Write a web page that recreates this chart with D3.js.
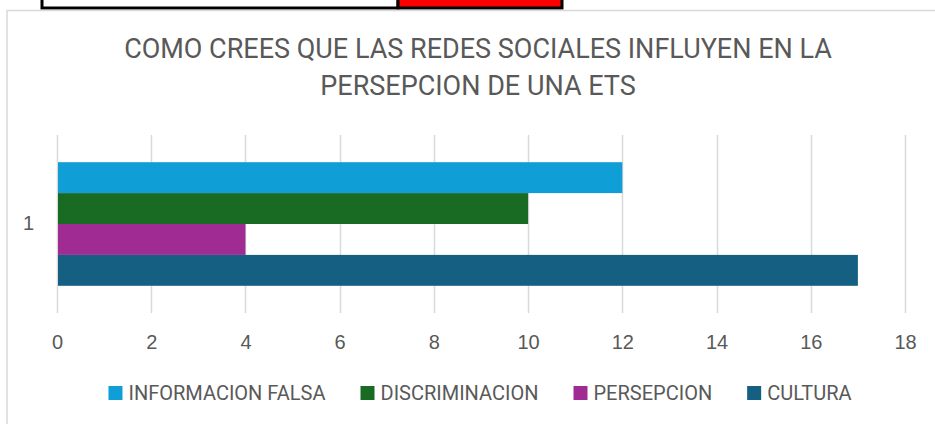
<!DOCTYPE html>
<html>
<head>
<meta charset="utf-8">
<script src="https://cdn.jsdelivr.net/npm/d3@7"></script>
<style>
  body { margin: 0; background: #fff; }
  svg { display: block; font-family: Roboto, "Liberation Sans", sans-serif; }
</style>
</head>
<body>
<div id="chart"></div>
<script>
// data
var categories = ["1"];
var seriesNames = ["INFORMACION FALSA", "DISCRIMINACION", "PERSEPCION", "CULTURA"];
var seriesValues = [12, 10, 4, 17];
var seriesColors = ["#0F9ED5", "#196B24", "#A02B93", "#156082"];
var xTicks = [0, 2, 4, 6, 8, 10, 12, 14, 16, 18];
var titleLines = ["COMO CREES QUE LAS REDES SOCIALES INFLUYEN EN LA", "PERSEPCION DE UNA ETS"];

var svgWidth = 935, svgHeight = 424;
var margin = { top: 135, right: 30, bottom: 111, left: 57 };
var width = svgWidth - margin.left - margin.right;
var height = svgHeight - margin.top - margin.bottom;
var textColor = "#595959";

var svg = d3.select("#chart").append("svg")
    .attr("width", svgWidth)
    .attr("height", svgHeight);

// spreadsheet cells peeking above the chart
svg.append("rect").attr("x", 42).attr("y", -10).attr("width", 356).attr("height", 18)
    .attr("fill", "#fff").attr("stroke", "#000").attr("stroke-width", 3);
svg.append("rect").attr("x", 398).attr("y", -10).attr("width", 164).attr("height", 18)
    .attr("fill", "#ff0000").attr("stroke", "#000").attr("stroke-width", 3);

// chart frame
svg.append("rect").attr("x", 7).attr("y", 10.5).attr("width", 960).attr("height", 440)
    .attr("fill", "#fff").attr("stroke", "#d9d9d9").attr("stroke-width", 1.5);

// title
svg.append("g").selectAll("text")
    .data(titleLines)
    .enter().append("text")
    .attr("x", 478)
    .attr("y", function (d, i) { return 58 + i * 37; })
    .attr("text-anchor", "middle")
    .attr("font-size", 27)
    .attr("fill", textColor)
    .text(function (d) { return d; });

var g = svg.append("g").attr("transform", "translate(" + margin.left + "," + margin.top + ")");

var x = d3.scaleLinear().domain([0, 18]).range([0, width]);
var y0 = d3.scaleBand().domain(categories).range([0, height]).paddingOuter(0.22).paddingInner(0);
var y1 = d3.scaleBand().domain(seriesNames).range([0, y0.bandwidth()]);

// gridlines
g.append("g")
    .attr("class", "grid")
    .selectAll("line")
    .data(xTicks)
    .enter().append("line")
    .attr("x1", function (d) { return Math.round(x(d)) + 0.5; })
    .attr("x2", function (d) { return Math.round(x(d)) + 0.5; })
    .attr("y1", 0)
    .attr("y2", height)
    .attr("stroke", "#d9d9d9")
    .attr("stroke-width", 1.5);

// bars
var cat = g.selectAll(".cat")
    .data(categories)
    .enter().append("g")
    .attr("class", "cat")
    .attr("transform", function (c) { return "translate(0," + y0(c) + ")"; });

cat.selectAll("rect")
    .data(seriesNames.map(function (n, i) { return { name: n, value: seriesValues[i], color: seriesColors[i] }; }))
    .enter().append("rect")
    .attr("x", x(0) + 1)
    .attr("y", function (d) { return y1(d.name); })
    .attr("width", function (d) { return x(d.value) - x(0) - 1; })
    .attr("height", y1.bandwidth())
    .attr("fill", function (d) { return d.color; });

// x axis labels
var xAxis = g.append("g")
    .attr("transform", "translate(0," + height + ")")
    .call(d3.axisBottom(x).tickValues(xTicks).tickSize(0).tickPadding(22));
xAxis.select(".domain").remove();
xAxis.selectAll("text").attr("font-size", 20).attr("fill", textColor).attr("font-family", null);

// y axis labels
var yAxis = g.append("g")
    .call(d3.axisLeft(y0).tickSize(0).tickPadding(23));
yAxis.select(".domain").remove();
yAxis.selectAll("text").attr("font-size", 20).attr("fill", textColor).attr("font-family", null);

// legend
var legend = svg.append("g");
var items = legend.selectAll("g")
    .data(seriesNames)
    .enter().append("g");
items.append("rect")
    .attr("width", 14).attr("height", 14)
    .attr("y", -14)
    .attr("fill", function (d, i) { return seriesColors[i]; });
items.append("text")
    .attr("x", 20)
    .attr("font-size", 20)
    .attr("fill", textColor)
    .text(function (d) { return d; });

var offset = 0;
items.each(function () {
    var w = this.getBBox().width;
    d3.select(this).attr("data-off", offset);
    offset += w + 35;
});
var total = offset - 35;
var startX = 480 - total / 2;
items.attr("transform", function () {
    return "translate(" + (startX + +this.getAttribute("data-off")) + ",400)";
});
</script>
</body>
</html>
